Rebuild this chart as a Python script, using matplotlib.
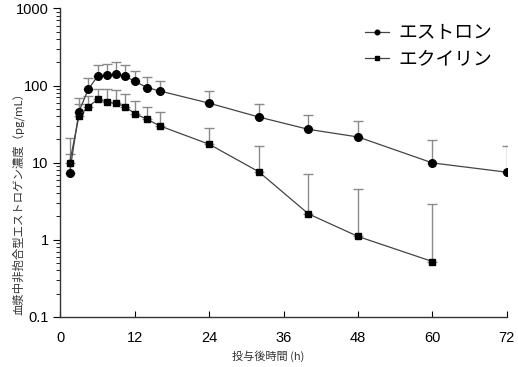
import numpy as np
import matplotlib
matplotlib.use('Agg')
import matplotlib.pyplot as plt
from matplotlib.ticker import FuncFormatter, LogLocator, NullFormatter

plt.rcParams['font.family'] = ['Liberation Sans', 'Noto Sans CJK JP', 'DejaVu Sans']

# データ
hours_e = [1.5, 3, 4.5, 6, 7.5, 9, 10.5, 12, 14, 16, 24, 32, 40, 48, 60, 72]
estrone = [7.4, 46, 89, 132, 136, 140, 132, 113, 94, 85, 59, 39, 27, 21.5, 9.9, 7.5]
estrone_up = [21, 69, 126, 184, 193, 199, 184, 153, 129, 115, 85, 58, 42, 35, 19.9, 16.4]

hours_q = [1.5, 3, 4.5, 6, 7.5, 9, 10.5, 12, 14, 16, 24, 32, 40, 48, 60]
equilin = [10, 40, 53, 66, 61, 59, 53, 43, 36.5, 30, 17.3, 7.6, 2.16, 1.1, 0.52]
equilin_up = [13, 57, 73, 91, 89, 87, 77, 63, 53, 45, 28, 16.4, 7.2, 4.5, 2.9]

xticks = [0, 12, 24, 36, 48, 60, 72]

fig = plt.figure(figsize=(5.18, 3.67), dpi=100)
ax = fig.add_axes([0.1165, 0.137, 0.862, 0.840])

# 上側のみのエラーバー
for x, y, up in [(hours_e, estrone, estrone_up), (hours_q, equilin, equilin_up)]:
    y = np.array(y)
    err = np.array(up) - y
    ax.errorbar(x, y, yerr=[np.zeros_like(err), err], fmt='none',
                ecolor='#8a8a8a', elinewidth=1.0, capsize=3.3, capthick=1.0, zorder=1)

ax.plot(hours_e, estrone, '-o', color='#444444', lw=0.9, mfc='black', mec='black',
        ms=5.5, label='エストロン', zorder=3)
ax.plot(hours_q, equilin, '-s', color='#444444', lw=0.9, mfc='black', mec='black',
        ms=5.0, label='エクイリン', zorder=3)

ax.set_yscale('log')
ax.set_ylim(0.1, 1000)
ax.set_xlim(0, 72)
ax.set_xticks(xticks)
ax.yaxis.set_major_formatter(FuncFormatter(lambda v, p: f'{v:g}'))
ax.yaxis.set_minor_locator(LogLocator(base=10, subs=np.arange(2, 10)))
ax.yaxis.set_minor_formatter(NullFormatter())

ax.spines['top'].set_visible(False)
ax.spines['right'].set_visible(False)
for s in ['left', 'bottom']:
    ax.spines[s].set_linewidth(1.0)
    ax.spines[s].set_color('#333333')

ax.tick_params(axis='x', direction='in', length=4, labelsize=10.5, pad=10)
ax.tick_params(axis='y', which='major', direction='out', length=5, labelsize=10.5)
ax.tick_params(axis='y', which='minor', direction='out', length=3)

# 軸ラベル
fig.text(0.517, 0.030, '投与後時間 (h)', fontsize=8, family=['Noto Sans CJK JP'],
         ha='center', va='center', color='#333333')
fig.text(0.036, 0.452, '血漿中非抱合型エストロゲン濃度（pg/mL）', fontsize=8.2,
         family=['Noto Sans CJK JP'], rotation=90, ha='center', va='center', color='#333333')

ax.legend(loc='upper left', bbox_to_anchor=(0.705, 0.939), bbox_transform=fig.transFigure,
          frameon=False, handlelength=1.25, handletextpad=0.5, markerscale=0.6,
          labelspacing=0.25, borderpad=0, borderaxespad=0,
          prop={'family': ['Noto Sans CJK JP'], 'size': 13.5})

plt.savefig('out.png', dpi=100)
